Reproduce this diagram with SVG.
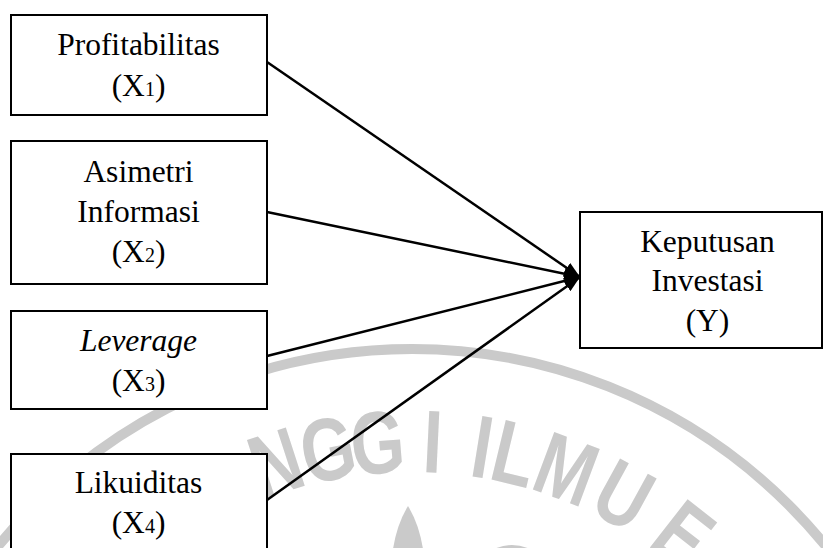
<svg xmlns="http://www.w3.org/2000/svg" width="823" height="548" viewBox="0 0 823 548">
<style>
.box{fill:#fff;stroke:#000;stroke-width:2}
.t{font-family:"Liberation Serif","Times New Roman",serif;font-size:31.5px;fill:#000;text-anchor:middle}
.sub{font-size:20px}
.wm{fill:#cacaca}
.wmt{font-family:"Liberation Sans",Arial,sans-serif;font-weight:bold;font-size:89px;fill:#cacaca;text-anchor:middle}
.conn line{stroke:#000;stroke-width:2.5;marker-end:url(#arr)}
</style>
<defs>
<marker id="arr" markerWidth="16" markerHeight="12" refX="16" refY="6" orient="auto" markerUnits="userSpaceOnUse">
<path d="M0,0 L16,6 L0,12 z" fill="#000"/>
</marker>
</defs>
<rect width="823" height="548" fill="#fff"/>
<g id="watermark">
<circle cx="412" cy="882" r="533" fill="none" stroke="#cacaca" stroke-width="10"/>
<text class="wmt" transform="rotate(-18 412 882) translate(412 472) scale(0.78 1)">N</text>
<text class="wmt" transform="rotate(-11 412 882) translate(412 472) scale(0.78 1)">G</text>
<text class="wmt" transform="rotate(-4.5 412 882) translate(412 472) scale(0.78 1)">G</text>
<text class="wmt" transform="rotate(2.7 412 882) translate(412 472) scale(0.78 1)">I</text>
<text class="wmt" transform="rotate(9.2 412 882) translate(412 472) scale(0.78 1)">I</text>
<text class="wmt" transform="rotate(13.5 412 882) translate(412 472) scale(0.78 1)">L</text>
<text class="wmt" transform="rotate(20.5 412 882) translate(412 472) scale(0.78 1)">M</text>
<text class="wmt" transform="rotate(28.7 412 882) translate(412 472) scale(0.78 1)">U</text>
<text class="wmt" transform="rotate(38 412 882) translate(412 472) scale(0.78 1)">E</text>
<path class="wm" d="M408,506 Q397,524 393,549 L423,549 Q419,524 408,506 Z"/>
<path class="wm" d="M494,549 Q512,541 530,549 Z"/>
</g>
<g id="connectors" class="conn">
<line x1="267" y1="62" x2="580" y2="277"/>
<line x1="267" y1="212" x2="580" y2="277"/>
<line x1="267" y1="356" x2="580" y2="277"/>
<line x1="267" y1="500" x2="580" y2="277"/>
</g>
<g id="x1">
<rect class="box" x="11" y="15" width="256" height="100"/>
<text class="t" x="138.5" y="55">Profitabilitas</text>
<text class="t" x="138.5" y="96">(X<tspan class="sub">1</tspan>)</text>
</g>
<g id="x2">
<rect class="box" x="11" y="141" width="256" height="143"/>
<text class="t" x="138.5" y="182">Asimetri</text>
<text class="t" x="138.5" y="222">Informasi</text>
<text class="t" x="138.5" y="262">(X<tspan class="sub">2</tspan>)</text>
</g>
<g id="x3">
<rect class="box" x="11" y="311" width="256" height="98"/>
<text class="t" x="138.5" y="351" font-style="italic">Leverage</text>
<text class="t" x="138.5" y="391">(X<tspan class="sub">3</tspan>)</text>
</g>
<g id="x4">
<rect class="box" x="11" y="454" width="256" height="100"/>
<text class="t" x="138.5" y="493">Likuiditas</text>
<text class="t" x="138.5" y="533">(X<tspan class="sub">4</tspan>)</text>
</g>
<g id="y">
<rect class="box" x="580" y="212" width="242" height="136"/>
<text class="t" x="707.5" y="252">Keputusan</text>
<text class="t" x="707.5" y="291">Investasi</text>
<text class="t" x="707.5" y="331">(Y)</text>
</g>
</svg>
